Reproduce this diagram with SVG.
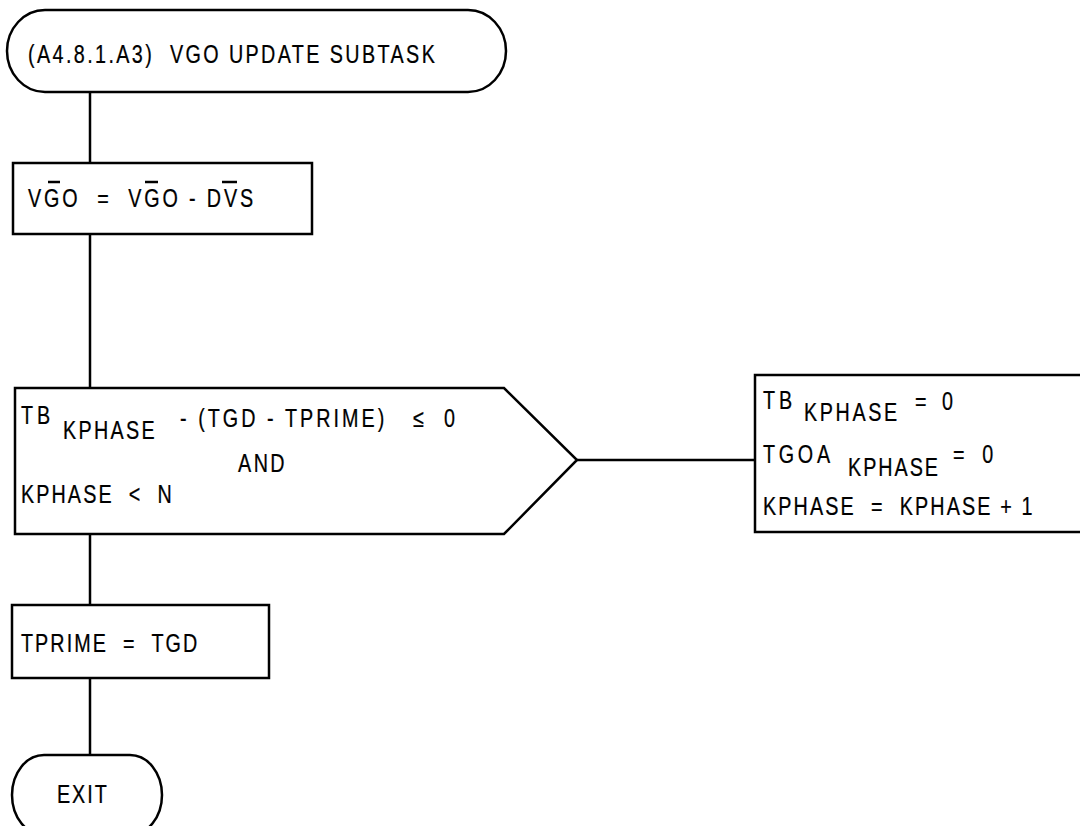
<svg xmlns="http://www.w3.org/2000/svg" width="1080" height="826" viewBox="0 0 1080 826">
<style>
.s{fill:#fff;stroke:#000;stroke-width:2.5;stroke-linejoin:miter}
.c{fill:none;stroke:#000;stroke-width:2.5}
.t{font-family:"Liberation Sans",Arial,sans-serif;font-size:25px;fill:#000;stroke:#000;stroke-width:0.25}
.o{stroke:#000;stroke-width:2.5}
</style>
<rect width="1080" height="826" fill="#fff"/>
<g id="connectors">
<line class="c" x1="90" y1="92" x2="90" y2="163"/>
<line class="c" x1="90" y1="234" x2="90" y2="388"/>
<line class="c" x1="90" y1="534" x2="90" y2="605"/>
<line class="c" x1="90" y1="678" x2="90" y2="755"/>
<line class="c" x1="577" y1="460" x2="755" y2="460"/>
</g>
<g id="start">
<rect class="s" x="7" y="10" width="499" height="82" rx="38" ry="41"/>
<text class="t" transform="translate(28,63) scale(0.79,1)" textLength="515" lengthAdjust="spacing" xml:space="preserve">(A4.8.1.A3)  VGO UPDATE SUBTASK</text>
</g>
<g id="vgo-update">
<rect class="s" x="13" y="163" width="299" height="71"/>
<text class="t" transform="translate(28,207) scale(0.79,1)" textLength="285" lengthAdjust="spacing" xml:space="preserve">VGO  =  VGO - DVS</text>
<line class="o" x1="48" y1="182" x2="60" y2="182"/>
<line class="o" x1="145" y1="182" x2="158" y2="182"/>
<line class="o" x1="222" y1="182" x2="237" y2="182"/>
</g>
<g id="decision">
<polygon class="s" points="15,388 504,388 577,460 504,534 15,534"/>
<text class="t" transform="translate(21,424) scale(0.79,1)" textLength="37" lengthAdjust="spacing">TB</text>
<text class="t" transform="translate(63,439) scale(0.79,1)" textLength="116" lengthAdjust="spacing">KPHASE</text>
<text class="t" transform="translate(180,427) scale(0.79,1)" textLength="348" lengthAdjust="spacing" xml:space="preserve">- (TGD - TPRIME)   ≤  0</text>
<text class="t" transform="translate(238,472) scale(0.79,1)" textLength="59" lengthAdjust="spacing">AND</text>
<text class="t" transform="translate(21,503) scale(0.79,1)" textLength="191" lengthAdjust="spacing" xml:space="preserve">KPHASE  &lt;  N</text>
</g>
<g id="reset">
<rect class="s" x="755" y="375" width="340" height="157"/>
<text class="t" transform="translate(763,409) scale(0.79,1)" textLength="37" lengthAdjust="spacing">TB</text>
<text class="t" transform="translate(804,421) scale(0.79,1)" textLength="118" lengthAdjust="spacing">KPHASE</text>
<text class="t" transform="translate(915,410) scale(0.79,1)" textLength="48" lengthAdjust="spacing" xml:space="preserve">=  0</text>
<text class="t" transform="translate(763,463) scale(0.79,1)" textLength="85" lengthAdjust="spacing">TGOA</text>
<text class="t" transform="translate(848,476) scale(0.79,1)" textLength="114" lengthAdjust="spacing">KPHASE</text>
<text class="t" transform="translate(953,463) scale(0.79,1)" textLength="51" lengthAdjust="spacing" xml:space="preserve">=  0</text>
<text class="t" transform="translate(763,515) scale(0.79,1)" textLength="341" lengthAdjust="spacing" xml:space="preserve">KPHASE  =  KPHASE + 1</text>
</g>
<g id="tprime">
<rect class="s" x="12" y="605" width="257" height="73"/>
<text class="t" transform="translate(21,652) scale(0.79,1)" textLength="223" lengthAdjust="spacing" xml:space="preserve">TPRIME  =  TGD</text>
</g>
<g id="exit">
<rect class="s" x="12" y="755" width="150" height="80" rx="32" ry="40"/>
<text class="t" transform="translate(57,803) scale(0.79,1)" textLength="63" lengthAdjust="spacing">EXIT</text>
</g>
</svg>
